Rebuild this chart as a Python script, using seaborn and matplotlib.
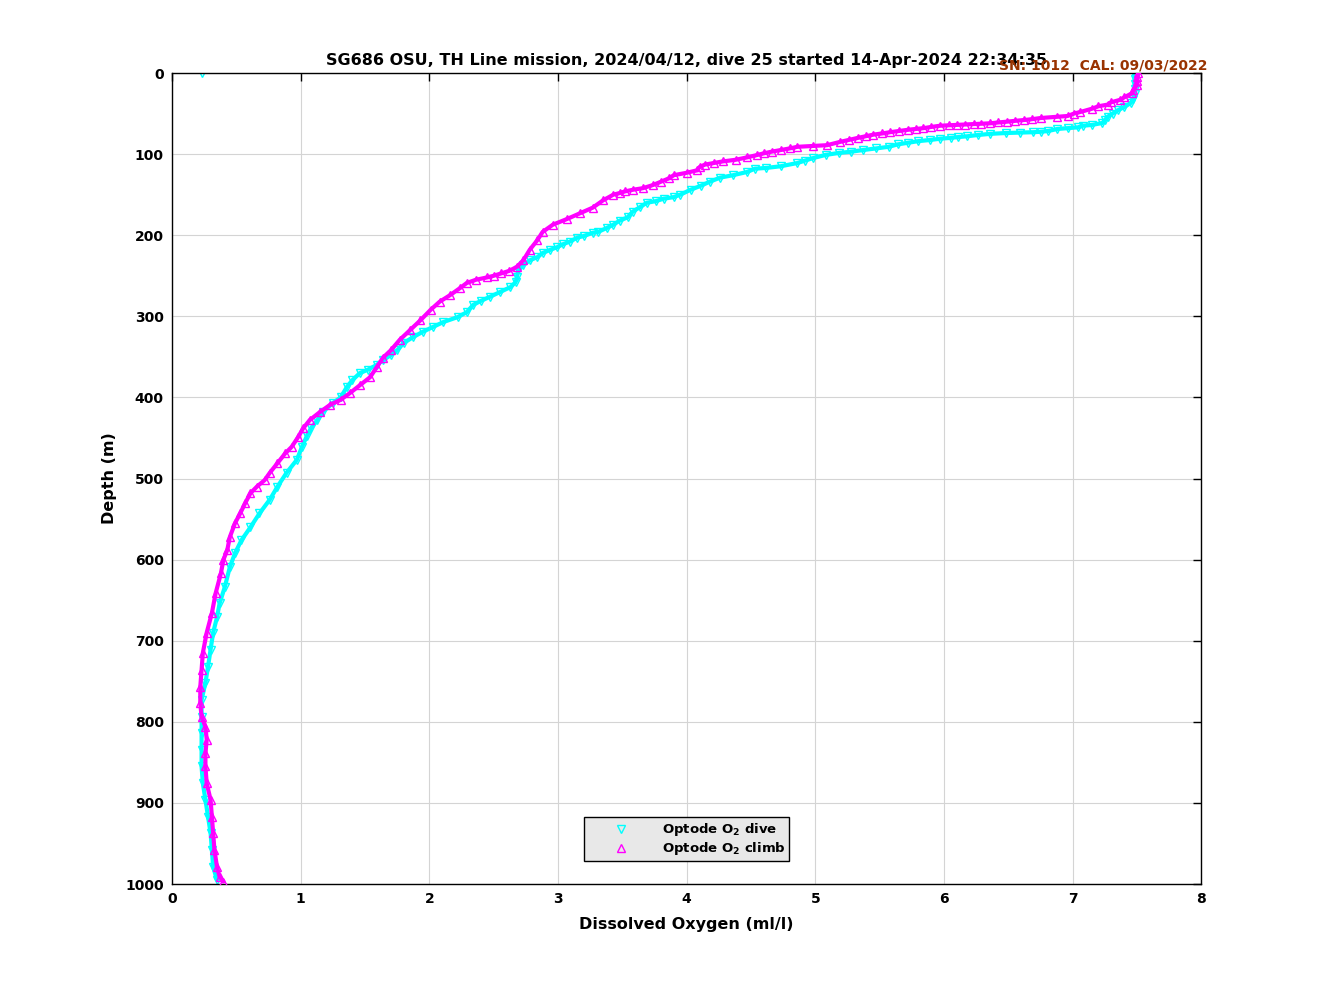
import numpy as np
import matplotlib
matplotlib.use("Agg")
import matplotlib.pyplot as plt
import seaborn as sns

title = "SG686 OSU, TH Line mission, 2024/04/12, dive 25 started 14-Apr-2024 22:34:35"
cal_text = "SN: 1012  CAL: 09/03/2022"

# dive (down-cast), first point is the surface outlier
dive_depth = [0, 2, 8, 14, 20, 26, 32, 37, 42, 46, 50, 54, 58, 61.6,
              64, 65, 67, 68, 69, 71.5, 72.5, 73, 73.5, 74, 75, 76.5, 78, 79, 80,
              81, 82.6, 84, 86, 88, 91, 93, 95, 97, 98.6, 101, 105, 108, 111,
              115, 117, 118, 122, 126, 129, 134, 139, 144, 150, 153, 155, 158,
              160, 165, 171, 178, 182, 187, 191, 196, 197, 201, 203, 208, 211,
              215, 218, 222, 227, 231, 237, 243, 252, 258, 264, 270, 276, 281,
              286, 295, 301, 307, 313, 319, 326, 333, 342, 348, 354, 360, 366,
              370, 379, 387, 400, 407, 418, 428, 438, 447, 461, 477, 493, 510,
              526, 543, 560, 576, 592, 609, 634, 654, 671, 690, 711, 732, 752,
              773, 794, 814, 835, 855, 876, 896, 917, 937, 958, 979, 995]
dive_o2 = [0.23, 7.48, 7.48, 7.48, 7.48, 7.48, 7.47, 7.45, 7.40, 7.35, 7.31, 7.27, 7.25, 7.23,
           7.15, 7.08, 7.04, 6.96, 6.88, 6.81, 6.75, 6.69, 6.59, 6.48, 6.36, 6.26, 6.18, 6.11, 6.05,
           5.97, 5.89, 5.80, 5.72, 5.64, 5.57, 5.47, 5.37, 5.28, 5.18, 5.08, 4.98, 4.92, 4.86,
           4.73, 4.62, 4.53, 4.47, 4.36, 4.26, 4.18, 4.11, 4.03, 3.95, 3.90, 3.82, 3.76,
           3.69, 3.64, 3.58, 3.54, 3.48, 3.43, 3.38, 3.31, 3.27, 3.20, 3.15, 3.09, 3.04,
           2.99, 2.94, 2.88, 2.84, 2.78, 2.73, 2.69, 2.68, 2.67, 2.63, 2.55, 2.47, 2.40,
           2.34, 2.29, 2.22, 2.11, 2.03, 1.95, 1.87, 1.80, 1.75, 1.70, 1.64, 1.59, 1.52,
           1.46, 1.40, 1.36, 1.31, 1.25, 1.17, 1.13, 1.08, 1.05, 1.01, 0.97, 0.89, 0.82,
           0.76, 0.68, 0.61, 0.54, 0.49, 0.45, 0.41, 0.37, 0.35, 0.32, 0.30, 0.28, 0.26,
           0.23, 0.23, 0.23, 0.23, 0.23, 0.24, 0.26, 0.28, 0.30, 0.31, 0.32, 0.35]

# climb (up-cast)
climb_depth = [0, 5, 10, 15, 21, 25, 30, 33, 36, 39, 41, 44, 48, 50, 53, 54, 55.5,
               57, 58, 59, 60, 61, 62, 62.5, 63, 63.5, 64, 64.5, 65, 66.5, 68, 69,
               70, 71.5, 73, 74.5, 76, 78, 80, 82.5, 85, 89, 90, 91, 93, 95, 97, 99,
               101, 104, 107, 109, 111, 113, 116, 120, 123, 126, 130, 134, 138, 142,
               144, 146, 148, 150, 157, 166, 173, 180, 187, 196, 206, 218, 231, 239,
               244, 247, 250, 252, 255, 259, 265, 274, 282, 292, 305, 317, 329, 342,
               351, 363, 375, 385, 395, 403, 409, 418, 428, 438, 449, 461, 469, 481,
               493, 502, 510, 518, 530, 543, 555, 572, 588, 600, 617, 641, 666, 690,
               715, 736, 757, 777, 794, 806, 822, 839, 855, 876, 896, 917, 937, 958,
               979, 991, 997]
climb_o2 = [7.51, 7.50, 7.50, 7.50, 7.47, 7.46, 7.40, 7.37, 7.30, 7.27, 7.20, 7.15, 7.06, 7.01, 6.96, 6.88, 6.75,
            6.68, 6.62, 6.55, 6.49, 6.42, 6.36, 6.29, 6.23, 6.16, 6.10, 6.04, 5.97, 5.90, 5.84, 5.78,
            5.72, 5.65, 5.58, 5.52, 5.45, 5.39, 5.33, 5.26, 5.19, 5.09, 4.98, 4.86, 4.80, 4.73, 4.66, 4.60,
            4.55, 4.47, 4.38, 4.28, 4.21, 4.14, 4.10, 4.08, 4.00, 3.90, 3.86, 3.80, 3.74, 3.66,
            3.58, 3.52, 3.48, 3.43, 3.35, 3.27, 3.17, 3.07, 2.96, 2.88, 2.84, 2.78, 2.73, 2.68,
            2.62, 2.56, 2.50, 2.45, 2.36, 2.29, 2.24, 2.16, 2.08, 2.01, 1.93, 1.85, 1.77, 1.70,
            1.64, 1.59, 1.54, 1.46, 1.38, 1.31, 1.23, 1.15, 1.07, 1.02, 0.98, 0.93, 0.88, 0.82,
            0.76, 0.72, 0.66, 0.61, 0.57, 0.53, 0.49, 0.45, 0.43, 0.40, 0.38, 0.34, 0.31, 0.27,
            0.24, 0.23, 0.22, 0.22, 0.23, 0.26, 0.27, 0.26, 0.26, 0.27, 0.30, 0.31, 0.32, 0.33,
            0.35, 0.37, 0.40]

x_ticks = [0, 1, 2, 3, 4, 5, 6, 7, 8]
y_ticks = [0, 100, 200, 300, 400, 500, 600, 700, 800, 900, 1000]

sns.set_style("whitegrid")
plt.rcParams['font.family'] = ['DejaVu Sans']
plt.rcParams['font.weight'] = 'bold'
plt.rcParams['mathtext.default'] = 'bf'
plt.rcParams['text.color'] = 'black'
plt.rcParams['axes.labelcolor'] = 'black'

fig = plt.figure(figsize=(13.28, 9.96), dpi=100)
ax = fig.add_axes([0.1295, 0.1124, 0.7752, 0.8143])

cyan = (0.0, 1.0, 1.0)
magenta = (1.0, 0.0, 1.0)

# connecting bands (the real data is much denser than what is listed)
sns.lineplot(x=dive_o2[1:], y=dive_depth[1:], sort=False, estimator=None,
             color=cyan, lw=3.0, ax=ax, zorder=2)
sns.lineplot(x=climb_o2, y=climb_depth, sort=False, estimator=None,
             color=magenta, lw=3.0, ax=ax, zorder=3)

ax.plot(dive_o2, dive_depth, linestyle='none', marker='v', markersize=6,
        markerfacecolor='none', markeredgecolor=cyan, markeredgewidth=1.0,
        label=r'Optode O$_2$ dive', zorder=2)
ax.plot(climb_o2, climb_depth, linestyle='none', marker='^', markersize=6,
        markerfacecolor='none', markeredgecolor=magenta, markeredgewidth=1.0,
        label=r'Optode O$_2$ climb', zorder=3)

ax.set_xlim(0, 8)
ax.set_ylim(1000, 0)
ax.set_xticks(x_ticks)
ax.set_yticks(y_ticks)
ax.tick_params(axis='both', labelsize=10, direction='in', length=6, width=1,
               top=True, right=True, colors='black', pad=6)
for lab in ax.get_xticklabels() + ax.get_yticklabels():
    lab.set_fontweight('bold')
ax.grid(True, color='#d4d4d4', lw=0.8)
for s in ax.spines.values():
    s.set_color('black')
    s.set_linewidth(1.0)

ax.set_xlabel("Dissolved Oxygen (ml/l)", fontsize=11.5, fontweight='bold', labelpad=8)
ax.set_ylabel("Depth (m)", fontsize=11.5, fontweight='bold', labelpad=6)
ax.set_title(title, fontsize=11.5, fontweight='bold', pad=6, color='black')
fig.text(0.909, 0.934, cal_text, color='#993300', fontsize=10, fontweight='bold',
         ha='right', va='center')

leg = ax.legend(loc='lower center', bbox_to_anchor=(0.5, 0.028), fontsize=9.5,
                frameon=True, fancybox=False, facecolor='#e8e8e8', edgecolor='black',
                handlelength=5.0, handletextpad=0.6, borderpad=0.3, labelspacing=0.15,
                borderaxespad=0)
leg.get_frame().set_linewidth(1.0)
leg.get_frame().set_alpha(1.0)
for t in leg.get_texts():
    t.set_fontweight('bold')

fig.savefig("out.png", dpi=100, facecolor='white')
